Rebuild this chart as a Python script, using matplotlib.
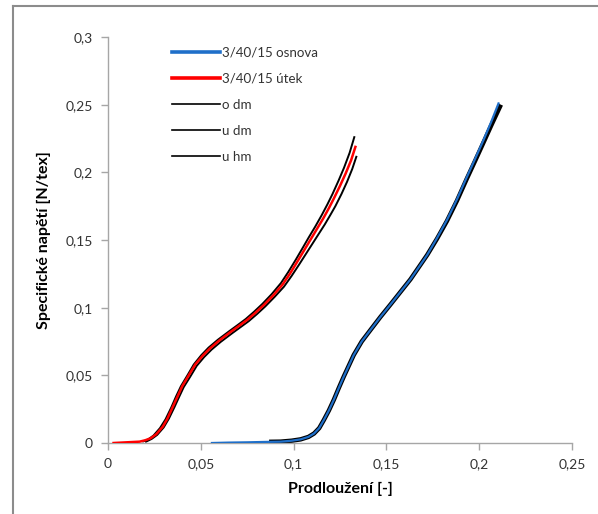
# Tensile curves: specific stress vs. elongation (3/40/15 fabric)

import matplotlib
matplotlib.use('Agg')

import matplotlib.pyplot as plt
from matplotlib.lines import Line2D
from matplotlib.ticker import FuncFormatter

# ----------------------------
# Data
# ----------------------------

osnova_x = [0.056, 0.065, 0.075, 0.085, 0.093, 0.099, 0.1038, 0.108, 0.111, 0.1138,
            0.1163, 0.119, 0.1217, 0.1243, 0.127, 0.1297, 0.1324, 0.1367, 0.1414, 0.1467,
            0.152, 0.1575, 0.163, 0.1675, 0.172, 0.1773, 0.1826, 0.188, 0.1934, 0.1978,
            0.2023, 0.2064, 0.2104]
osnova_y = [0.0, 0.0003, 0.0005, 0.0008, 0.001, 0.0017, 0.0027, 0.0045, 0.007, 0.011,
            0.017, 0.024, 0.032, 0.0405, 0.049, 0.057, 0.065, 0.075, 0.0835, 0.093,
            0.102, 0.1115, 0.121, 0.130, 0.139, 0.1515, 0.1647, 0.180, 0.1967, 0.210,
            0.2238, 0.237, 0.2509]

utek_x = [0.003, 0.010, 0.017, 0.020, 0.023, 0.026, 0.0295, 0.032, 0.035, 0.0375,
          0.040, 0.0435, 0.047, 0.051, 0.055, 0.060, 0.066, 0.0705, 0.075, 0.0795,
          0.084, 0.089, 0.094, 0.098, 0.102, 0.1055, 0.109, 0.1125, 0.116, 0.119,
          0.1217, 0.125, 0.128, 0.131, 0.1333]
utek_y = [0.0, 0.0005, 0.001, 0.002, 0.0035, 0.0065, 0.012, 0.018, 0.027, 0.0345,
          0.042, 0.050, 0.058, 0.0645, 0.070, 0.0758, 0.082, 0.0865, 0.091, 0.0963,
          0.102, 0.109, 0.117, 0.125, 0.134, 0.142, 0.150, 0.158, 0.166, 0.1735,
          0.1807, 0.190, 0.199, 0.209, 0.2188]

o_dm_x = [0.088, 0.093, 0.099, 0.1038, 0.108, 0.111, 0.1138, 0.1163, 0.119, 0.1217,
          0.1243, 0.127, 0.1297, 0.1324, 0.1367, 0.1414, 0.1467, 0.152, 0.1575, 0.163,
          0.1675, 0.172, 0.1773, 0.1826, 0.188, 0.1934, 0.1978, 0.2023, 0.2066, 0.2112]
o_dm_y = [0.0009, 0.001, 0.0017, 0.0027, 0.0045, 0.007, 0.011, 0.017, 0.024, 0.032,
          0.0405, 0.049, 0.057, 0.065, 0.075, 0.0835, 0.093, 0.102, 0.1115, 0.121,
          0.130, 0.139, 0.151, 0.164, 0.179, 0.1955, 0.2085, 0.222, 0.235, 0.2485]

u_dm_x = [0.019, 0.0215, 0.0245, 0.028, 0.031, 0.034, 0.0367, 0.0393, 0.0428, 0.0462,
          0.0502, 0.0542, 0.0592, 0.0652, 0.0697, 0.0742, 0.0787, 0.0832, 0.0882, 0.0932,
          0.0972, 0.1012, 0.1047, 0.1082, 0.1117, 0.1152, 0.1182, 0.1209, 0.1242, 0.1272,
          0.1302, 0.1327]
u_dm_y = [0.0012, 0.0025, 0.0055, 0.011, 0.0175, 0.026, 0.0345, 0.042, 0.050, 0.058,
          0.0648, 0.0705, 0.0763, 0.0825, 0.087, 0.0916, 0.097, 0.1028, 0.110, 0.1182,
          0.1265, 0.1355, 0.1437, 0.152, 0.160, 0.1685, 0.1763, 0.1838, 0.1938, 0.2035,
          0.2145, 0.226]

u_hm_x = [0.0205, 0.0235, 0.0265, 0.030, 0.0328, 0.0358, 0.0383, 0.0408, 0.0443, 0.0478,
          0.0518, 0.0558, 0.0608, 0.0668, 0.0713, 0.0758, 0.0803, 0.0848, 0.0898, 0.0948,
          0.0988, 0.1028, 0.1063, 0.1098, 0.1133, 0.1168, 0.1198, 0.1225, 0.1258, 0.1288,
          0.1316, 0.1338]
u_hm_y = [0.001, 0.003, 0.006, 0.0115, 0.018, 0.0265, 0.034, 0.0413, 0.049, 0.057,
          0.0635, 0.069, 0.0748, 0.081, 0.0855, 0.090, 0.0953, 0.101, 0.108, 0.1155,
          0.1232, 0.1315, 0.139, 0.1465, 0.154, 0.1615, 0.1685, 0.175, 0.184, 0.193,
          0.2025, 0.2115]

x_ticks = [0, 0.05, 0.1, 0.15, 0.2, 0.25]
y_ticks = [0, 0.05, 0.1, 0.15, 0.2, 0.25, 0.3]

labels = ['3/40/15 osnova', '3/40/15 útek', 'o dm', 'u dm', 'u hm']

# ----------------------------
# Figure
# ----------------------------

plt.rcParams['font.family'] = ['Lato', 'DejaVu Sans']

fig = plt.figure(figsize=(5.98, 5.14), dpi=100)
ax = fig.add_axes([108 / 598, 1 - 443 / 514, (572 - 108) / 598, (443 - 37) / 514])

BLUE = '#1f6fc9'
RED = '#ff0000'

ax.plot(u_dm_x, u_dm_y, color='black', lw=1.4, zorder=2)
ax.plot(u_hm_x, u_hm_y, color='black', lw=1.4, zorder=2)
ax.plot(utek_x, utek_y, color=RED, lw=1.8, zorder=3)

ax.plot(o_dm_x, o_dm_y, color='black', lw=3.2, zorder=2)
ax.plot(osnova_x, osnova_y, color=BLUE, lw=1.6, zorder=3)

ax.set_xlim(0, 0.25)
ax.set_ylim(0, 0.3)
ax.set_xticks(x_ticks)
ax.set_yticks(y_ticks)

comma = FuncFormatter(lambda v, p: ('%g' % round(v, 3)).replace('.', ','))
ax.xaxis.set_major_formatter(comma)
ax.yaxis.set_major_formatter(comma)

for side in ['top', 'right']:
    ax.spines[side].set_visible(False)
for side in ['left', 'bottom']:
    ax.spines[side].set_color('#a6a6a6')
    ax.spines[side].set_linewidth(1.0)

ax.tick_params(direction='out', length=5, width=1, color='#a6a6a6',
               labelsize=10, labelcolor='#333333', pad=6)

ax.set_xlabel('Prodloužení [-]', fontsize=11.5, fontweight='bold', labelpad=8)
ax.set_ylabel('Specifické napětí [N/tex]', fontsize=11.5, fontweight='bold', labelpad=10)

# legend
handles = [
    Line2D([], [], color=BLUE, lw=2.6),
    Line2D([], [], color=RED, lw=2.6),
    Line2D([], [], color='black', lw=1.2),
    Line2D([], [], color='black', lw=1.2),
    Line2D([], [], color='black', lw=1.2),
]
ax.legend(handles, labels, loc='upper left', bbox_to_anchor=(0.112, 1.005),
          frameon=False, fontsize=9.6, handlelength=3.6, handletextpad=0.15,
          labelspacing=1.05, labelcolor='#333333')

# outer chart frame (left + top)
fig.add_artist(Line2D([12.5 / 598, 12.5 / 598], [0, 1 - 5.5 / 514],
                      color='#8c8c8c', lw=1.5, transform=fig.transFigure))
fig.add_artist(Line2D([12.5 / 598, 1], [1 - 5.5 / 514, 1 - 5.5 / 514],
                      color='#8c8c8c', lw=1.5, transform=fig.transFigure))

plt.savefig('out.png', dpi=100)
plt.close()
